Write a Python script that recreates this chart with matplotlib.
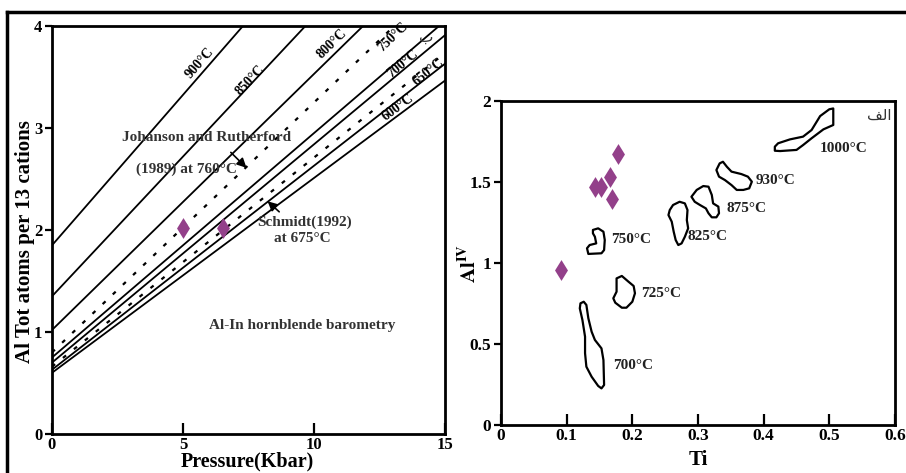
import numpy as np
import matplotlib
matplotlib.use("Agg")
import matplotlib.pyplot as plt
from matplotlib.lines import Line2D

# ---------------------------------------------------------------
# data

# left panel: Al-in-hornblende isotherms, Al = a + s * P
iso_a = [1.85, 1.35, 1.02, 0.80, 0.75, 0.70, 0.66, 0.63, 0.60]
iso_s = [0.295, 0.274, 0.251, 0.245, 0.220, 0.214, 0.205, 0.200, 0.191]
iso_dotted = [False, False, False, True, False, False, True, False, False]

# rotated labels on the isotherms (P, Al)
lab_text = ['900°C', '850°C', '800°C', '750°C', '700°C', '650°C', '600°C']
lab_slope = [0.295, 0.274, 0.251, 0.245, 0.214, 0.205, 0.191]
lab_p = [5.65, 7.56, 10.7, 13.0, 13.4, 14.35, 13.2]
lab_al = [3.64, 3.47, 3.83, 3.89, 3.63, 3.55, 3.20]

samp_p = [5.0, 6.53]
samp_al = [2.02, 2.02]

# right panel: samples (Ti, AlIV)
ti = [0.178, 0.166, 0.143, 0.152, 0.169, 0.091]
al4 = [1.67, 1.53, 1.47, 1.47, 1.395, 0.957]

# fields of the experimental hornblendes
f1000_ti = [0.417, 0.422, 0.440, 0.460, 0.473, 0.486, 0.500, 0.506, 0.506, 0.491, 0.473, 0.460, 0.450, 0.425, 0.417]
f1000_al = [1.718, 1.739, 1.763, 1.780, 1.821, 1.907, 1.949, 1.954, 1.852, 1.825, 1.770, 1.728, 1.698, 1.691, 1.693]
f930_ti = [0.333, 0.338, 0.344, 0.351, 0.366, 0.376, 0.382, 0.378, 0.369, 0.359, 0.351, 0.341, 0.332, 0.328]
f930_al = [1.615, 1.625, 1.594, 1.564, 1.549, 1.533, 1.502, 1.461, 1.451, 1.451, 1.481, 1.512, 1.533, 1.574]
f875_ti = [0.298, 0.308, 0.316, 0.321, 0.323, 0.331, 0.332, 0.328, 0.321, 0.316, 0.312, 0.303, 0.295, 0.290]
f875_al = [1.451, 1.475, 1.471, 1.420, 1.368, 1.348, 1.307, 1.282, 1.282, 1.307, 1.337, 1.358, 1.378, 1.409]
f825_ti = [0.262, 0.272, 0.280, 0.284, 0.283, 0.285, 0.280, 0.275, 0.270, 0.266, 0.263, 0.260, 0.255, 0.257]
f825_al = [1.358, 1.378, 1.368, 1.327, 1.265, 1.214, 1.162, 1.121, 1.111, 1.142, 1.193, 1.255, 1.296, 1.327]
f750_ti = [0.140, 0.148, 0.156, 0.158, 0.157, 0.153, 0.133, 0.131, 0.135, 0.145, 0.143, 0.140]
f750_al = [1.204, 1.214, 1.193, 1.142, 1.080, 1.060, 1.056, 1.091, 1.111, 1.121, 1.162, 1.183]
f725_ti = [0.176, 0.184, 0.194, 0.202, 0.204, 0.200, 0.191, 0.184, 0.174, 0.171, 0.176, 0.176]
f725_al = [0.905, 0.920, 0.885, 0.858, 0.813, 0.761, 0.724, 0.724, 0.755, 0.782, 0.823, 0.864]
f700_ti = [0.121, 0.126, 0.130, 0.133, 0.138, 0.143, 0.153, 0.156, 0.157, 0.153, 0.148, 0.138, 0.130, 0.128, 0.128, 0.124, 0.120]
f700_al = [0.751, 0.761, 0.741, 0.659, 0.576, 0.525, 0.473, 0.401, 0.247, 0.226, 0.241, 0.298, 0.360, 0.443, 0.545, 0.648, 0.720]

fields = [(f1000_ti, f1000_al), (f930_ti, f930_al), (f875_ti, f875_al), (f825_ti, f825_al),
          (f750_ti, f750_al), (f725_ti, f725_al), (f700_ti, f700_al)]
field_lab = ['1000°C', '930°C', '875°C', '825°C', '750°C', '725°C', '700°C']
field_lab_ti = [0.486, 0.387, 0.344, 0.284, 0.168, 0.213, 0.170]
field_lab_al = [1.708, 1.512, 1.337, 1.162, 1.142, 0.813, 0.370]

# ---------------------------------------------------------------
# style
serif = 'Liberation Serif'
plt.rcParams['font.family'] = serif
plt.rcParams['font.weight'] = 'bold'
plt.rcParams['mathtext.fontset'] = 'stix'
purple = '#93408A'
diamond = [(0, 1), (0.62, 0), (0, -1), (-0.62, 0), (0, 1)]

fig = plt.figure(figsize=(9.06, 4.73), dpi=100)
W, H = 906.0, 473.0

# outer frame of the original figure
fig.add_artist(Line2D([7 / W, 1.0], [1 - 12 / H, 1 - 12 / H], color='k', lw=2.5, transform=fig.transFigure))
fig.add_artist(Line2D([7 / W, 7 / W], [0.0, 1 - 12 / H], color='k', lw=2.5, transform=fig.transFigure))

ax1 = fig.add_axes([52 / W, 1 - 434 / H, 393 / W, 408 / H])
ax2 = fig.add_axes([501 / W, 1 - 425 / H, 394 / W, 324 / H])

for ax in (ax1, ax2):
    for sp in ax.spines.values():
        sp.set_linewidth(2.0)
    ax.tick_params(axis='x', direction='in', length=8, width=1.6, pad=2)
    ax.tick_params(axis='y', direction='out', length=5, width=1.6, pad=2)

# ---------------- left panel
ax1.set_xlim(0, 15)
ax1.set_ylim(0, 4)
ax1.set_xticks([0, 5, 10, 15])
ax1.set_yticks([0, 1, 2, 3, 4])
for lbl in ax1.get_xticklabels() + ax1.get_yticklabels():
    lbl.set_fontsize(12)
    lbl.set_fontweight('bold')

P = np.array([0, 15.0])
for a, s, dot in zip(iso_a, iso_s, iso_dotted):
    if dot:
        ax1.plot(P, a + s * P, color='k', lw=1.6, ls=(0, (1.8, 4.5)), solid_capstyle='butt')
    else:
        ax1.plot(P, a + s * P, color='k', lw=1.3)

for t, s, p, al in zip(lab_text, lab_slope, lab_p, lab_al):
    ang = ax1.transData.transform_angles(np.array([np.degrees(np.arctan(s))]), np.array([[p, al]]))[0]
    ax1.text(p, al, t, rotation=ang, rotation_mode='anchor', ha='center', va='center',
             fontsize=10, fontweight='bold')

ax1.text(14.3, 3.89, 'ب', family=['DejaVu Sans'], fontsize=11, fontweight='normal',
         ha='center', va='center', color='#333333')

ax1.plot(samp_p, samp_al, ls='none', marker=diamond, ms=15, color=purple, mec='none')

ax1.text(5.9, 2.91, 'Johanson and Rutherford', fontsize=11, ha='center', va='center', color='#333333')
ax1.text(5.15, 2.6, '(1989) at 760°C', fontsize=11, ha='center', va='center', color='#333333')
ax1.annotate('', xy=(7.5, 2.59), xytext=(6.75, 2.78),
             arrowprops=dict(arrowstyle='-|>', color='k', lw=1.2, mutation_scale=14))
ax1.text(9.65, 2.08, 'Schmidt(1992)', fontsize=11, ha='center', va='center', color='#333333')
ax1.text(9.54, 1.92, 'at 675°C', fontsize=11, ha='center', va='center', color='#333333')
ax1.annotate('', xy=(8.15, 2.3), xytext=(8.75, 2.16),
             arrowprops=dict(arrowstyle='-|>', color='k', lw=1.2, mutation_scale=14))
ax1.text(9.54, 1.06, 'Al-In hornblende barometry', fontsize=11, ha='center', va='center', color='#333333')

fig.text(25 / W, 1 - 242 / H, 'Al Tot atoms per 13 cations', rotation=90, ha='center', va='center',
         fontsize=15, fontweight='bold')
fig.text(247 / W, 1 - 471 / H, 'Pressure(Kbar)', ha='center', va='bottom', fontsize=14.5, fontweight='bold')

# ---------------- right panel
ax2.set_xlim(0, 0.6)
ax2.set_ylim(0, 2)
ax2.set_xticks([0, 0.1, 0.2, 0.3, 0.4, 0.5, 0.6])
ax2.set_xticklabels(['0', '0.1', '0.2', '0.3', '0.4', '0.5', '0.6'])
ax2.set_yticks([0, 0.5, 1, 1.5, 2])
ax2.set_yticklabels(['0', '0.5', '1', '1.5', '2'])
for lbl in ax2.get_xticklabels() + ax2.get_yticklabels():
    lbl.set_fontsize(12.5)
    lbl.set_fontweight('bold')

for (fx, fy) in fields:
    ax2.fill(fx, fy, facecolor='none', edgecolor='k', lw=1.6, joinstyle='round')

for t, x, y in zip(field_lab, field_lab_ti, field_lab_al):
    ax2.text(x, y, t, fontsize=11, ha='left', va='center', fontweight='bold', color='#222222')

ax2.plot(ti, al4, ls='none', marker=diamond, ms=15, color=purple, mec='none')

ax2.text(0.595, 1.91, '\ufed2\ufedf\ufe8d', family=['DejaVu Sans'], fontsize=11, fontweight='normal',
         ha='right', va='center', color='#333333')

fig.text(698 / W, 1 - 470 / H, 'Ti', ha='center', va='bottom', fontsize=15, fontweight='bold')
fig.text(470 / W, 1 - 263 / H, r'$\mathbf{Al^{IV}}$', rotation=90, ha='center', va='center', fontsize=15)

fig.savefig('out.png', dpi=100)
